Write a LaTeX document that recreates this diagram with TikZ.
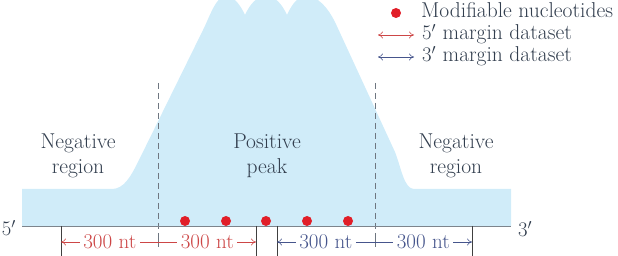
\documentclass[tikz,border=0pt]{standalone}
\usetikzlibrary{arrows.meta}
\definecolor{peakblue}{RGB}{208,236,249}
\definecolor{txt}{RGB}{50,62,78}
\definecolor{axisgray}{RGB}{125,132,140}
\definecolor{dashgray}{RGB}{110,118,128}
\definecolor{dotred}{RGB}{225,30,40}
\definecolor{mred}{RGB}{205,70,70}
\definecolor{mblue}{RGB}{70,85,140}
\tikzset{
  lbl/.style={text=txt,font=\fontsize{21.5}{25}\selectfont,align=center},
  dot/.style={circle,fill=dotred,inner sep=0pt,minimum size=10pt},
  meas/.style={line width=0.6pt,{To[length=5pt,width=7pt]}-{To[length=5pt,width=7pt]}},
  mlbl/.style={fill=white,inner sep=3.5pt,font=\fontsize{21}{23}\selectfont},
  tick/.style={line width=0.6pt,draw=black!75},
  dline/.style={dashed,dash pattern=on 6pt off 4pt,line width=0.7pt,draw=dashgray}
}
\begin{document}
\begin{tikzpicture}[x=1pt,y=-1pt]
\useasboundingbox (0,0) rectangle (618,256);
\clip (0,0) rectangle (618,256);
% peak fill
\fill[peakblue] (22,226) -- (22,189) -- (112,189)
  .. controls (124,189) and (131,176) .. (138,162)
  -- (203,30)
  .. controls (210,16) and (216,-4) .. (226,-4)
  .. controls (234,-4) and (241,6) .. (245,15)
  .. controls (250,4) and (257,-4) .. (266,-4)
  .. controls (275,-4) and (282,4) .. (287,15)
  .. controls (292,4) and (298,-4) .. (306,-4)
  .. controls (318,-4) and (328,8) .. (335,22)
  -- (395,152)
  .. controls (401,167) and (404,189) .. (414,189)
  -- (511,189) -- (511,226) -- cycle;
% dashed boundaries
\coordinate (dlt) at (158,83); \coordinate (dlb) at (158,247);
\coordinate (drt) at (375,83); \coordinate (drb) at (375,247);
\draw[dline] (dlt) -- (dlb);
\draw[dline] (drt) -- (drb);
% axis
\coordinate (ax0) at (22,226); \coordinate (ax1) at (511,226);
\draw[axisgray,line width=0.8pt] (ax0) -- (ax1);
\node[lbl,anchor=east,inner sep=0pt] (five) at (16,228) {$5'$};
\node[lbl,anchor=west,inner sep=0pt] (three) at (518,229) {$3'$};
% region labels
\node[lbl] (negl) at (78,156) {Negative\\region};
\node[lbl] (pos) at (267,156) {Positive\\peak};
\node[lbl] (negr) at (456,156) {Negative\\region};
% dots
\foreach \x/\n in {185/1,226/2,266/3,307/4,348/5}
  \node[dot] (d\n) at (\x,221) {};
% ticks
\foreach \x/\n in {61/a,256/b,277/c,472/d}{
  \coordinate (t\n) at (\x,226); \coordinate (b\n) at (\x,256);
  \draw[tick] (t\n) -- (b\n);}
% measurements
\coordinate (ma) at (61,242); \coordinate (mb) at (256,242);
\coordinate (mc) at (277,242); \coordinate (md) at (472,242);
\draw[meas,mred] (ma) -- node[mlbl,pos=0.25,text=mred] (m1) {300 nt} node[mlbl,pos=0.75,text=mred] (m2) {300 nt} (mb);
\draw[meas,mblue] (mc) -- node[mlbl,pos=0.25,text=mblue] (m3) {300 nt} node[mlbl,pos=0.75,text=mblue] (m4) {300 nt} (md);
\draw[dline] (158,236) -- (dlb);
\draw[dline] (375,236) -- (drb);
% legend
\node[dot] (ldot) at (396,13) {};
\node[lbl,anchor=base west,inner sep=0pt] (l1) at (421,18) {Modifiable nucleotides};
\coordinate (lr0) at (378,35); \coordinate (lr1) at (414,35);
\coordinate (lb0) at (378,57); \coordinate (lb1) at (414,57);
\draw[meas,mred] (lr0) -- (lr1);
\draw[meas,mblue] (lb0) -- (lb1);
\node[lbl,anchor=base west,inner sep=0pt] (l2) at (422,40) {$5'$ margin dataset};
\node[lbl,anchor=base west,inner sep=0pt] (l3) at (422,62) {$3'$ margin dataset};
\end{tikzpicture}
\end{document}
